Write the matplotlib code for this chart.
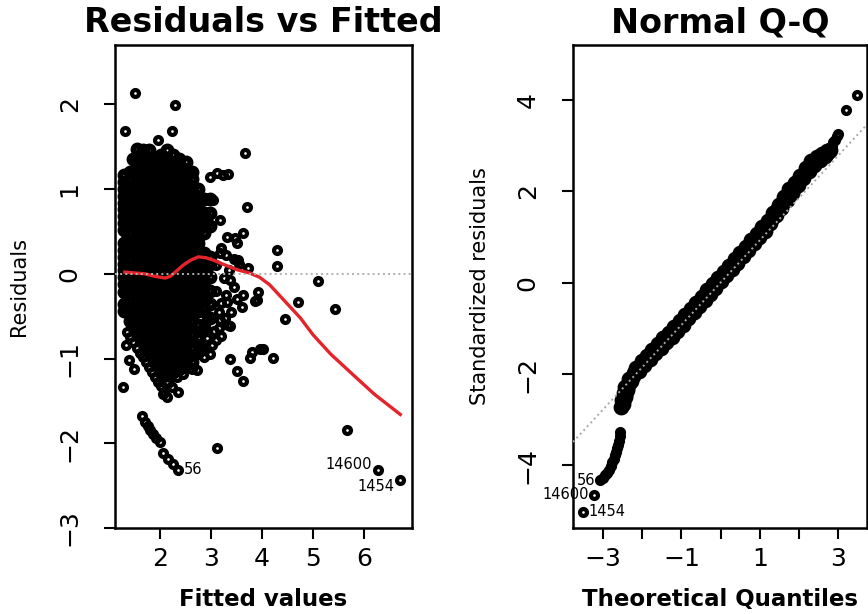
import matplotlib
matplotlib.use("Agg")
import matplotlib.pyplot as plt

# ---------------------------------------------------------------------------
# Residuals vs Fitted: dense body, read as columns of fitted values
# ---------------------------------------------------------------------------
body_x = [1.30, 1.42, 1.54, 1.66, 1.78, 1.90, 2.02, 2.14, 2.26, 2.38, 2.50, 2.62, 2.74, 2.86, 2.98]
body_y = [
    [-0.44, -0.36, -0.21, -0.12, -0.04, 0.04, 0.12, 0.20, 0.28, 0.36, 0.52, 0.60, 0.68, 0.76, 0.84,
     0.92, 1.00, 1.08, 1.16],
    [-0.56, -0.48, -0.40, -0.32, -0.24, -0.16, -0.08, 0.00, 0.08, 0.16, 0.24, 0.32, 0.40, 0.48, 0.56,
     0.64, 0.72, 0.80, 0.88, 0.96, 1.04, 1.12, 1.20],
    [-0.68, -0.60, -0.52, -0.44, -0.36, -0.28, -0.20, -0.12, -0.04, 0.04, 0.12, 0.20, 0.28, 0.36, 0.44,
     0.52, 0.60, 0.68, 0.76, 0.84, 0.92, 1.00, 1.08, 1.16, 1.24, 1.32, 1.47],
    [-0.80, -0.72, -0.64, -0.56, -0.48, -0.40, -0.32, -0.24, -0.16, -0.08, 0.00, 0.08, 0.16, 0.24, 0.32,
     0.40, 0.48, 0.56, 0.64, 0.72, 0.80, 0.88, 0.96, 1.04, 1.12, 1.20, 1.28, 1.36, 1.46],
    [-0.92, -0.84, -0.76, -0.68, -0.60, -0.52, -0.44, -0.36, -0.28, -0.20, -0.12, -0.04, 0.04, 0.12, 0.20,
     0.28, 0.36, 0.44, 0.52, 0.60, 0.68, 0.76, 0.84, 0.92, 1.00, 1.08, 1.16, 1.24, 1.32, 1.46],
    [-1.04, -0.96, -0.88, -0.80, -0.72, -0.64, -0.56, -0.48, -0.40, -0.32, -0.24, -0.16, -0.08, 0.00, 0.08,
     0.16, 0.24, 0.32, 0.40, 0.48, 0.56, 0.64, 0.72, 0.80, 0.88, 0.96, 1.04, 1.12, 1.20, 1.28, 1.36],
    [-1.16, -1.08, -1.00, -0.92, -0.84, -0.76, -0.68, -0.60, -0.52, -0.44, -0.36, -0.28, -0.20, -0.12, -0.04,
     0.04, 0.12, 0.20, 0.28, 0.36, 0.44, 0.52, 0.60, 0.68, 0.76, 0.84, 0.92, 1.00, 1.08, 1.16, 1.24, 1.32, 1.40],
    [-1.28, -1.20, -1.12, -1.04, -0.96, -0.88, -0.80, -0.72, -0.64, -0.56, -0.48, -0.40, -0.32, -0.24, -0.16,
     -0.08, 0.00, 0.08, 0.16, 0.24, 0.32, 0.40, 0.48, 0.56, 0.64, 0.72, 0.80, 0.88, 0.96, 1.04, 1.12, 1.20,
     1.28, 1.36, 1.46],
    [-1.16, -1.08, -1.00, -0.92, -0.84, -0.76, -0.68, -0.60, -0.52, -0.44, -0.36, -0.28, -0.20, -0.12, -0.04,
     0.04, 0.12, 0.20, 0.28, 0.36, 0.44, 0.52, 0.60, 0.68, 0.76, 0.84, 0.92, 1.00, 1.08, 1.16, 1.24, 1.32, 1.40],
    [-1.12, -1.04, -0.96, -0.88, -0.80, -0.72, -0.64, -0.56, -0.48, -0.40, -0.32, -0.24, -0.16, -0.08, 0.00,
     0.08, 0.16, 0.24, 0.32, 0.40, 0.48, 0.56, 0.64, 0.72, 0.80, 0.88, 0.96, 1.04, 1.12, 1.20, 1.28, 1.36],
    [-1.08, -1.00, -0.92, -0.84, -0.76, -0.68, -0.60, -0.52, -0.44, -0.36, -0.28, -0.20, -0.12, -0.04, 0.04,
     0.12, 0.20, 0.28, 0.36, 0.44, 0.52, 0.60, 0.68, 0.76, 0.84, 0.92, 1.00, 1.08, 1.16, 1.24, 1.32],
    [-1.04, -0.88, -0.72, -0.56, -0.48, -0.40, -0.32, -0.24, -0.16, -0.08, 0.00, 0.08, 0.16, 0.24, 0.32,
     0.40, 0.48, 0.56, 0.64, 0.72, 0.80, 0.88, 0.96, 1.04, 1.12, 1.20],
    [-0.92, -0.76, -0.60, -0.44, -0.36, -0.28, -0.20, -0.12, -0.04, 0.04, 0.12, 0.20, 0.28, 0.36, 0.44,
     0.52, 0.60, 0.68, 0.76, 0.84, 0.92, 1.00],
    [-0.88, -0.64, -0.40, -0.32, -0.24, -0.16, -0.08, 0.00, 0.08, 0.16, 0.24, 0.48, 0.56, 0.64, 0.72, 0.88],
    [-0.52, -0.36, -0.20, -0.04, 0.12, 0.20, 0.56, 0.72, 0.88],
]

# in-between columns that fill the densest part of the body
fill_x = [1.36, 1.48, 1.60, 1.72, 1.84, 1.96, 2.08, 2.20, 2.32, 2.44, 2.56]
fill_y = [
    [-0.40, -0.24, -0.08, 0.08, 0.24, 0.40, 0.56, 0.72, 0.88, 1.04],
    [-0.56, -0.40, -0.24, -0.08, 0.08, 0.24, 0.40, 0.56, 0.72, 0.88, 1.04, 1.20, 1.36],
    [-0.68, -0.52, -0.36, -0.20, -0.04, 0.12, 0.28, 0.44, 0.60, 0.76, 0.92, 1.08, 1.24, 1.40],
    [-0.80, -0.64, -0.48, -0.32, -0.16, 0.00, 0.16, 0.32, 0.48, 0.64, 0.80, 0.96, 1.12, 1.28],
    [-0.92, -0.76, -0.60, -0.44, -0.28, -0.12, 0.04, 0.20, 0.36, 0.52, 0.68, 0.84, 1.00, 1.16, 1.32],
    [-1.04, -0.88, -0.72, -0.56, -0.40, -0.24, -0.08, 0.08, 0.24, 0.40, 0.56, 0.72, 0.88, 1.04, 1.20, 1.36],
    [-1.16, -1.00, -0.84, -0.68, -0.52, -0.36, -0.20, -0.04, 0.12, 0.28, 0.44, 0.60, 0.76, 0.92, 1.08, 1.24],
    [-1.12, -0.96, -0.80, -0.64, -0.48, -0.32, -0.16, 0.00, 0.16, 0.32, 0.48, 0.64, 0.80, 0.96, 1.12, 1.28],
    [-1.08, -0.92, -0.76, -0.60, -0.44, -0.28, -0.12, 0.04, 0.20, 0.36, 0.52, 0.68, 0.84, 1.00, 1.16, 1.32],
    [-1.04, -0.88, -0.72, -0.56, -0.40, -0.24, -0.08, 0.08, 0.24, 0.40, 0.56, 0.72, 0.88, 1.04, 1.20],
    [-0.40, -0.24, -0.08, 0.08, 0.24, 0.40, 0.56, 0.72, 0.88, 1.04, 1.20],
]

# diagonal streaks below the body
streak_x = [1.36, 1.42, 1.48, 1.54, 1.60, 1.66, 1.72, 1.78, 1.84, 1.90, 1.96, 2.02, 2.08, 2.14,
            1.33, 1.40, 1.50, 1.27,
            1.65, 1.71, 1.76, 1.80, 1.86, 1.93, 2.00, 2.06, 2.16, 2.25, 2.35]
streak_y = [-0.69, -0.75, -0.81, -0.87, -0.93, -0.98, -1.04, -1.10, -1.16, -1.22, -1.28, -1.33, -1.39, -1.45,
            -0.84, -1.02, -1.12, -1.34,
            -1.68, -1.75, -1.80, -1.84, -1.89, -1.94, -1.99, -2.11, -2.19, -2.25, -2.31]

# scattered points around the body and to the right
spread_x = [1.51, 2.29, 1.31, 2.24, 1.96,
            3.67, 3.71, 3.12, 3.24, 2.98, 3.33, 3.04, 3.18, 2.98, 3.31, 3.51, 3.63, 3.47, 3.18,
            3.20, 3.30, 3.45, 3.55, 3.35, 3.25, 3.10, 3.53, 3.73, 3.37,
            4.29, 4.29, 5.10, 4.71, 5.43, 4.45,
            3.63, 3.92, 3.86, 3.61, 3.90, 3.45, 3.50, 3.40, 3.30, 3.20, 3.10, 3.15, 3.31, 3.27, 3.33, 3.18, 3.37,
            2.78, 2.88, 2.95, 3.05, 2.92, 3.02, 2.80, 3.10, 2.70, 2.86, 3.15, 3.20, 2.98, 2.66,
            2.53, 2.73, 2.33, 2.24, 2.35, 2.06, 2.45, 2.63,
            3.37, 3.51, 3.63, 3.76, 3.80, 3.96, 4.02, 4.22, 3.12, 5.67, 6.27, 6.71]
spread_y = [2.13, 1.99, 1.69, 1.69, 1.58,
            1.42, 0.79, 1.19, 1.16, 1.14, 1.18, 0.87, 0.64, 0.55, 0.44, 0.36, 0.48, 0.42, 0.25,
            0.30, 0.22, 0.18, 0.12, 0.05, -0.05, 0.10, 0.16, 0.07, -0.07,
            0.28, 0.09, -0.08, -0.33, -0.42, -0.53,
            -0.25, -0.22, -0.32, -0.39, -0.31, -0.15, -0.30, -0.45, -0.25, -0.35, -0.20, -0.45, -0.33, -0.52,
            -0.60, -0.54, -0.62,
            -0.52, -0.60, -0.50, -0.68, -0.76, -0.84, -0.88, -0.78, -0.96, -0.98, -0.64, -0.74, -0.95, -0.80,
            -1.09, -1.13, -1.22, -1.34, -1.39, -1.42, -1.18, -1.12,
            -1.01, -1.15, -1.27, -0.99, -0.92, -0.89, -0.89, -0.99, -2.05, -1.84, -2.32, -2.43]

# red smoother
smooth_x = [1.31, 1.50, 1.70, 1.90, 2.00, 2.10, 2.20, 2.30, 2.45, 2.60, 2.75, 2.90, 3.05, 3.25,
            3.50, 3.75, 3.95, 4.15, 4.35, 4.55, 4.75, 5.00, 5.35, 5.80, 6.20, 6.71]
smooth_y = [0.02, 0.01, 0.00, -0.03, -0.04, -0.05, -0.03, 0.02, 0.10, 0.16, 0.20, 0.19, 0.16, 0.11,
            0.05, 0.01, -0.04, -0.13, -0.26, -0.39, -0.52, -0.72, -0.95, -1.20, -1.42, -1.66]

rf_labels = ["56", "14600", "1454"]
rf_label_x = [2.35, 6.27, 6.71]
rf_label_y = [-2.31, -2.32, -2.43]
rf_label_side = ["right", "left", "left"]
rf_label_lift = [0, 4, -5]

# ---------------------------------------------------------------------------
# Normal Q-Q
# ---------------------------------------------------------------------------
qq_band_x = [-2.55, -2.49, -2.52, -2.45, -2.48, -2.40, -2.43, -2.33, -2.35, -2.24,
             -2.16, -2.09, -2.02, -1.95, -1.88, -1.81, -1.74, -1.67, -1.60, -1.53, -1.46, -1.39,
             -1.32, -1.25, -1.18, -1.11, -1.04, -0.97,
             -0.90, -0.83, -0.76, -0.69, -0.62, -0.55, -0.48, -0.41, -0.34, -0.27, -0.20, -0.13,
             -0.06, 0.01, 0.08, 0.15, 0.22, 0.29,
             0.36, 0.43, 0.50, 0.57, 0.64, 0.71, 0.78, 0.85, 0.92, 0.99, 1.06, 1.13, 1.20,
             1.27, 1.34, 1.41, 1.48, 1.55, 1.62, 1.69, 1.76,
             1.83, 1.90, 1.97, 2.04, 2.11, 2.18, 2.25, 2.32,
             2.39, 2.46, 2.53, 2.60, 2.67, 2.73, 2.79]
qq_band_y = [-2.72, -2.66, -2.57, -2.50, -2.42, -2.36, -2.28, -2.20, -2.12, -2.05,
             -1.86, -1.93, -1.72, -1.80, -1.60, -1.67, -1.47, -1.54, -1.34, -1.42, -1.22, -1.30,
             -1.10, -1.18, -0.98, -1.05, -0.85, -0.92,
             -0.71, -0.78, -0.58, -0.65, -0.44, -0.51, -0.31, -0.38, -0.17, -0.24, -0.03, -0.11,
             0.10, 0.03, 0.24, 0.16, 0.37, 0.30,
             0.51, 0.44, 0.65, 0.58, 0.79, 0.72, 0.93, 0.86, 1.07, 1.00, 1.21, 1.14, 1.35,
             1.30, 1.52, 1.47, 1.70, 1.64, 1.87, 1.81, 2.04,
             1.97, 2.19, 2.13, 2.34, 2.28, 2.50, 2.44, 2.66,
             2.58, 2.75, 2.69, 2.82, 2.78, 2.89, 2.90]

# the points in between along the centre of the band
qq_mid_x = [-2.50, -2.44, -2.38, -2.30, -2.20, -2.12, -2.05, -1.98, -1.91, -1.84, -1.77, -1.70, -1.63,
            -1.56, -1.49, -1.42, -1.35, -1.28, -1.21, -1.14, -1.07, -1.00, -0.93, -0.86, -0.79, -0.72,
            -0.65, -0.58, -0.51, -0.44, -0.37, -0.30, -0.23, -0.16, -0.09, -0.02, 0.05, 0.12, 0.19,
            0.26, 0.33, 0.40, 0.47, 0.54, 0.61, 0.68, 0.75, 0.82, 0.89, 0.96, 1.03, 1.10, 1.17, 1.24,
            1.31, 1.38, 1.45, 1.52, 1.59, 1.66, 1.73, 1.80, 1.87, 1.94, 2.01, 2.08, 2.15, 2.22, 2.29,
            2.36, 2.43, 2.50, 2.57, 2.64, 2.71, 2.77]
qq_mid_y = [-2.60, -2.46, -2.31, -2.16, -1.98, -1.89, -1.83, -1.76, -1.70, -1.63, -1.57, -1.51, -1.44,
            -1.38, -1.32, -1.26, -1.20, -1.14, -1.08, -1.02, -0.95, -0.89, -0.82, -0.75, -0.68, -0.61,
            -0.54, -0.48, -0.41, -0.34, -0.27, -0.20, -0.13, -0.07, 0.00, 0.07, 0.14, 0.20, 0.27,
            0.34, 0.41, 0.48, 0.55, 0.62, 0.69, 0.76, 0.83, 0.90, 0.97, 1.04, 1.11, 1.18, 1.25, 1.33,
            1.41, 1.50, 1.58, 1.67, 1.76, 1.84, 1.93, 2.01, 2.08, 2.16, 2.24, 2.31, 2.39, 2.47, 2.55,
            2.62, 2.68, 2.72, 2.76, 2.80, 2.84, 2.89]

# upper end of the band and the two largest residuals
qq_top_x = [2.84, 2.88, 2.93, 2.97, 3.00, 3.21, 3.49]
qq_top_y = [3.00, 3.07, 3.13, 3.20, 3.26, 3.78, 4.11]

qq_tail_x = [-2.56, -2.58, -2.60, -2.62, -2.64, -2.67, -2.69, -2.73, -2.77, -2.81, -2.85, -2.90,
             -2.95, -3.00, -3.07, -3.23, -3.51]
qq_tail_y = [-3.26, -3.36, -3.46, -3.55, -3.63, -3.71, -3.78, -3.86, -3.93, -4.01, -4.09, -4.16,
             -4.22, -4.27, -4.32, -4.64, -5.01]

qq_slope = 0.925
qq_intercept = 0.0

qq_labels = ["56", "14600", "1454"]
qq_label_x = [-3.07, -3.23, -3.51]
qq_label_y = [-4.32, -4.64, -5.01]
qq_label_side = ["left", "left", "right"]
qq_label_lift = [0, 0, 0]

# ---------------------------------------------------------------------------
plt.rcParams["font.family"] = ["DejaVu Sans"]
plt.rcParams["axes.linewidth"] = 1.8

pt_style = dict(ls="none", marker="o", mfc="none", mec="black", ms=5.0, mew=3.0, zorder=2)
# heavily overplotted groups: same circle, thicker ring so the overlaps read as solid
dense_style = dict(pt_style, ms=5.8, mew=4.2)
band_style = dict(pt_style, ms=6.6, mew=4.8)


def style_axes(ax, title, xlabel, ylabel):
    ax.set_title(title, fontsize=24, fontweight="bold", pad=9)
    ax.set_xlabel(xlabel, fontsize=16.5, fontweight="bold", va="center")
    ax.set_ylabel(ylabel, fontsize=15, va="center")
    ax.tick_params(axis="both", direction="out", length=8, width=1.5, labelsize=18)
    ax.tick_params(axis="x", pad=6)
    ax.tick_params(axis="y", pad=16, labelrotation=90)
    for lab in ax.get_yticklabels():
        lab.set_va("center")


def put_labels(ax, labels, xs, ys, sides, lifts):
    for lab, x, y, side, lift in zip(labels, xs, ys, sides, lifts):
        dx = -4 if side == "left" else 4
        ax.annotate(lab, (x, y), xytext=(dx, lift), textcoords="offset points",
                    ha="right" if side == "left" else "left", va="center",
                    fontsize=10.5, annotation_clip=False)


def expand(xs, cols):
    px, py = [], []
    for x, col in zip(xs, cols):
        px += [x] * len(col)
        py += col
    return px, py


fig = plt.figure(figsize=(8.68, 6.14), dpi=100)

# left panel
ax1 = fig.add_axes([115 / 868, 86 / 614, 297 / 868, 483 / 614])
bx, by = expand(body_x, body_y)
ax1.plot(bx, by, **dense_style)
bx, by = expand(fill_x, fill_y)
ax1.plot(bx, by, **dense_style)
ax1.plot(streak_x, streak_y, **pt_style)
ax1.plot(spread_x, spread_y, **pt_style)
ax1.plot(smooth_x, smooth_y, color="#e5232b", lw=2.4, zorder=3)
ax1.axhline(0, ls=":", color="#b0b0b0", lw=1.4, zorder=4)
put_labels(ax1, rf_labels, rf_label_x, rf_label_y, rf_label_side, rf_label_lift)
ax1.set_xlim(1.118, 6.94)
ax1.set_ylim(-2.99, 2.70)
ax1.set_xticks([2, 3, 4, 5, 6])
ax1.set_yticks([-3, -2, -1, 0, 1, 2])
style_axes(ax1, "Residuals vs Fitted", "Fitted values", "Residuals")
ax1.xaxis.set_label_coords(0.5, -0.147)
ax1.yaxis.set_label_coords(-0.323, 0.5)

# right panel
ax2 = fig.add_axes([573 / 868, 86 / 614, 294 / 868, 483 / 614])
ax2.plot(qq_band_x, qq_band_y, **band_style)
ax2.plot(qq_mid_x, qq_mid_y, **band_style)
ax2.plot(qq_top_x, qq_top_y, **pt_style)
ax2.plot(qq_tail_x, qq_tail_y, **pt_style)
ax2.axline((0, qq_intercept), slope=qq_slope, ls=":", color="#a8a8a8", lw=1.4, zorder=4)
put_labels(ax2, qq_labels, qq_label_x, qq_label_y, qq_label_side, qq_label_lift)
ax2.set_xlim(-3.77, 3.74)
ax2.set_ylim(-5.37, 5.20)
ax2.set_xticks([-3, -2, -1, 0, 1, 2, 3])
ax2.set_xticklabels(["\u22123", "", "\u22121", "", "1", "", "3"])
ax2.set_yticks([-4, -2, 0, 2, 4])
style_axes(ax2, "Normal Q-Q", "Theoretical Quantiles", "Standardized residuals")
ax2.xaxis.set_label_coords(0.5, -0.147)
ax2.yaxis.set_label_coords(-0.316, 0.5)

fig.savefig("out.png", dpi=100)
